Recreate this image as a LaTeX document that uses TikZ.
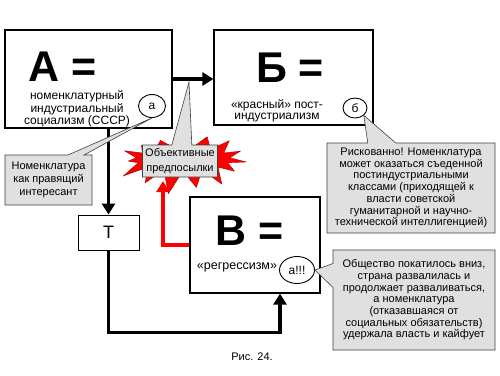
\documentclass[tikz,border=0pt]{standalone}
\usepackage{fontspec}
\setmainfont{Liberation Sans}
\usetikzlibrary{arrows.meta,shapes.geometric,shapes.symbols,shapes.callouts}

\begin{document}
\begin{tikzpicture}[x=1pt, y=-1pt,
                box/.style={draw, fill=white, line width=1.2pt},
                big/.style={font=\fontsize{43}{43}\selectfont\bfseries},
                small/.style={font=\fontsize{12}{10.4}\selectfont, align=center, inner sep=0pt},
                oval/.style={ellipse, draw, fill=white, line width=0.9pt, inner sep=0pt, font=\fontsize{12}{12}\selectfont},
                note/.style={rectangle callout, draw=black!75, fill=black!12, line width=0.6pt, align=center, font=\fontsize{11}{11.7}\selectfont, inner sep=2pt},
                flow/.style={line width=3.5pt, -{Triangle[length=11pt,width=13pt]}}
            ]

                \useasboundingbox (0,0) rectangle (500,375);

                % The red burst behind the note
                \node[starburst, fill=red, draw=red!60!black, minimum width=142pt, minimum height=72pt,
                      starburst points=15, starburst point height=24pt, random starburst=7] (burst) at (183,159) {};

                % Main boxes
                \node[box, minimum width=167pt, minimum height=98pt] (A) at (88.5,79) {};
                \node[box, minimum width=159pt, minimum height=95pt] (B) at (293.5,77.5) {};
                \node[box, minimum width=130pt, minimum height=96pt] (V) at (255,245) {};
                \node[box, line width=1pt, minimum width=61pt, minimum height=35pt, font=\fontsize{18}{18}\selectfont] (T) at (108.5,232.5) {Т};

                % Texts inside the boxes
                \node[big] (Abig) at (63,67) {А =};
                \node[small] (Atext) at (77,109) {номенклатурный\\индустриальный\\социализм (СССР)};
                \node[oval, minimum width=27pt, minimum height=23pt] (a) at (152,106) {а};

                \node[big] (Bbig) at (290,68) {Б =};
                \node[small, font=\fontsize{12}{11.2}\selectfont] (Btext) at (277,111) {«красный» пост-\\индустриализм};
                \node[oval, minimum width=24pt, minimum height=20pt] (b) at (355,108) {б};

                \node[big] (Vbig) at (250,231) {В =};
                \node[small, font=\fontsize{12.5}{12.5}\selectfont] (Vtext) at (237,267) {«регрессизм»};
                \node[oval, minimum width=35pt, minimum height=27pt] (a3) at (297,270) {а!!!};

                % Arrows between the boxes
                \draw[flow] (A.east) -- (A.east -| B.west);
                \draw[flow, line width=3pt] (A.south -| T.north) -- (T.north);
                \draw[flow] (T.south) -- ++(0,82) -| ([xshift=25pt]V.south);
                \coordinate (redtip) at (163,181);
                \draw[flow, red] (V.west) -| (redtip);

                % Notes with pointers
                \coordinate (hint) at (189,82);
                \node[note, font=\fontsize{11}{15}\selectfont, minimum width=75pt, minimum height=32pt,
                      callout pointer width=20pt, callout absolute pointer={(hint)}] (obj) at (180,161) {Объективные\\предпосылки};
                \node[note, font=\fontsize{11}{13}\selectfont, minimum width=87pt, minimum height=50pt,
                      callout pointer width=16pt, callout absolute pointer={(a.south)}] (nomen) at (48.5,180) {Номенклатура\\как правящий\\интересант};
                \node[note, minimum width=168pt, minimum height=90pt,
                      callout pointer width=28pt, callout absolute pointer={(b.south east)}] (risk) at (411,188)
                      {Рискованно! Номенклатура\\может оказаться съеденной\\постиндустриальными\\классами (приходящей к\\власти советской\\гуманитарной и научно-\\технической интеллигенцией)};
                \node[note, minimum width=162pt, minimum height=100pt,
                      callout pointer width=24pt, callout absolute pointer={(a3.east)}] (fall) at (414,300)
                      {Общество покатилось вниз,\\страна развалилась и\\продолжает разваливаться,\\а номенклатура\\(отказавшаяся от\\социальных обязательств)\\удержала власть и кайфует};

                % Caption
                \node[font=\fontsize{11}{11}\selectfont] (cap) at (252,357) {Рис. 24.};

            \end{tikzpicture}
\end{document}
